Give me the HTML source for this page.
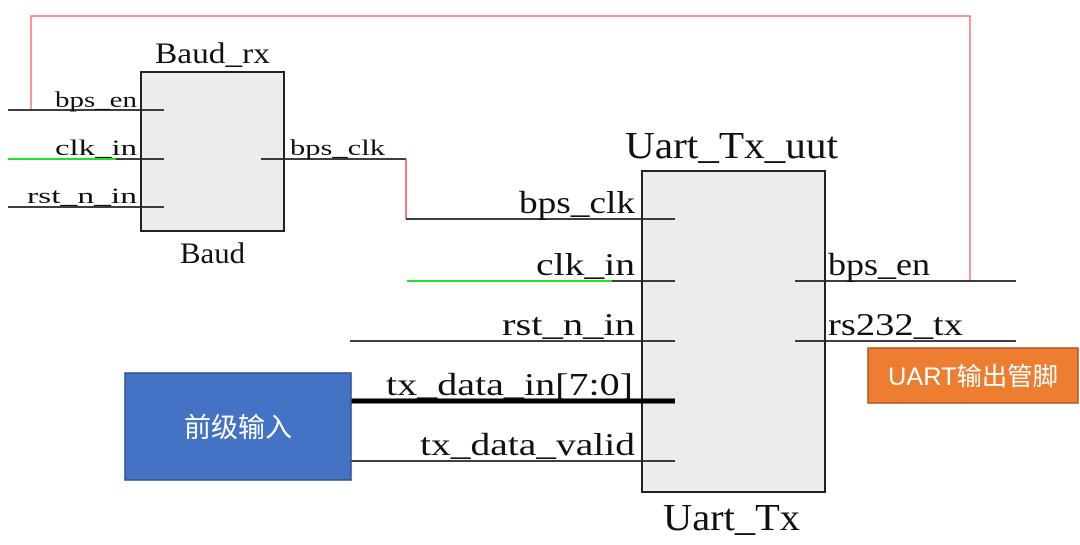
<!DOCTYPE html>
<html><head><meta charset="utf-8"><style>
html,body{margin:0;padding:0;background:#fff;}
svg{display:block;}
text{font-family:"Liberation Serif","Noto Serif CJK SC",serif;fill:#111;}
.cjk{font-family:"Liberation Sans","Noto Sans CJK SC",sans-serif;fill:#fff;}
</style></head><body>
<svg width="1080" height="545" viewBox="0 0 1080 545" xmlns="http://www.w3.org/2000/svg">
<polyline points="31,110 31,16 970,16 970,281" fill="none" stroke="#ff5050" stroke-width="1.2"/>
<rect x="141" y="72" width="143" height="159" fill="#ececec" stroke="#222" stroke-width="2"/>
<line x1="8" y1="110" x2="164" y2="110" stroke="#222" stroke-width="1.8"/>
<line x1="8" y1="159" x2="116" y2="159" stroke="#22e022" stroke-width="2"/>
<line x1="116" y1="159" x2="164" y2="159" stroke="#222" stroke-width="1.8"/>
<line x1="8" y1="207" x2="164" y2="207" stroke="#222" stroke-width="1.8"/>
<line x1="261" y1="159" x2="406" y2="159" stroke="#222" stroke-width="1.8"/>
<line x1="406" y1="159" x2="406" y2="219" stroke="#ff2020" stroke-width="1.2"/>
<text x="155" y="63" font-size="30" textLength="115" lengthAdjust="spacingAndGlyphs">Baud_rx</text>
<text x="180" y="263" font-size="30" textLength="65" lengthAdjust="spacingAndGlyphs">Baud</text>
<text x="55" y="107" font-size="22" textLength="82" lengthAdjust="spacingAndGlyphs">bps_en</text>
<text x="55" y="155" font-size="22" textLength="82" lengthAdjust="spacingAndGlyphs">clk_in</text>
<text x="27" y="203" font-size="22" textLength="110" lengthAdjust="spacingAndGlyphs">rst_n_in</text>
<text x="290" y="155" font-size="22" textLength="95" lengthAdjust="spacingAndGlyphs">bps_clk</text>
<rect x="642" y="171" width="183" height="321" fill="#ececec" stroke="#222" stroke-width="2"/>
<line x1="406" y1="219" x2="675" y2="219" stroke="#222" stroke-width="1.8"/>
<line x1="407" y1="281" x2="612" y2="281" stroke="#22e022" stroke-width="2"/>
<line x1="612" y1="281" x2="675" y2="281" stroke="#222" stroke-width="1.8"/>
<line x1="350" y1="341" x2="675" y2="341" stroke="#222" stroke-width="1.8"/>
<line x1="350" y1="401" x2="675" y2="401" stroke="#000" stroke-width="5"/>
<line x1="350" y1="461" x2="675" y2="461" stroke="#222" stroke-width="1.8"/>
<line x1="795" y1="281" x2="1016" y2="281" stroke="#222" stroke-width="1.8"/>
<line x1="795" y1="341" x2="1016" y2="341" stroke="#222" stroke-width="1.8"/>
<text x="625" y="158" font-size="38" textLength="213" lengthAdjust="spacingAndGlyphs">Uart_Tx_uut</text>
<text x="663" y="530" font-size="38" textLength="137" lengthAdjust="spacingAndGlyphs">Uart_Tx</text>
<text x="519" y="213" font-size="32" textLength="116" lengthAdjust="spacingAndGlyphs">bps_clk</text>
<text x="536" y="275" font-size="32" textLength="99" lengthAdjust="spacingAndGlyphs">clk_in</text>
<text x="502" y="335" font-size="32" textLength="133" lengthAdjust="spacingAndGlyphs">rst_n_in</text>
<text x="386" y="395" font-size="32" textLength="247" lengthAdjust="spacingAndGlyphs">tx_data_in[7:0]</text>
<text x="420" y="455" font-size="32" textLength="215" lengthAdjust="spacingAndGlyphs">tx_data_valid</text>
<text x="828" y="275" font-size="32" textLength="102" lengthAdjust="spacingAndGlyphs">bps_en</text>
<text x="828" y="335" font-size="32" textLength="135" lengthAdjust="spacingAndGlyphs">rs232_tx</text>
<rect x="125" y="373" width="226" height="107" fill="#4472c4" stroke="#2f528f" stroke-width="1.5"/>
<text class="cjk" x="238" y="437" font-size="27" text-anchor="middle">前级输入</text>
<rect x="868" y="348" width="210" height="55" fill="#ed7d31" stroke="#ae5a21" stroke-width="1.5"/>
<text class="cjk" x="973" y="385" font-size="25" text-anchor="middle" textLength="170" lengthAdjust="spacingAndGlyphs">UART输出管脚</text>
</svg>
</body></html>
